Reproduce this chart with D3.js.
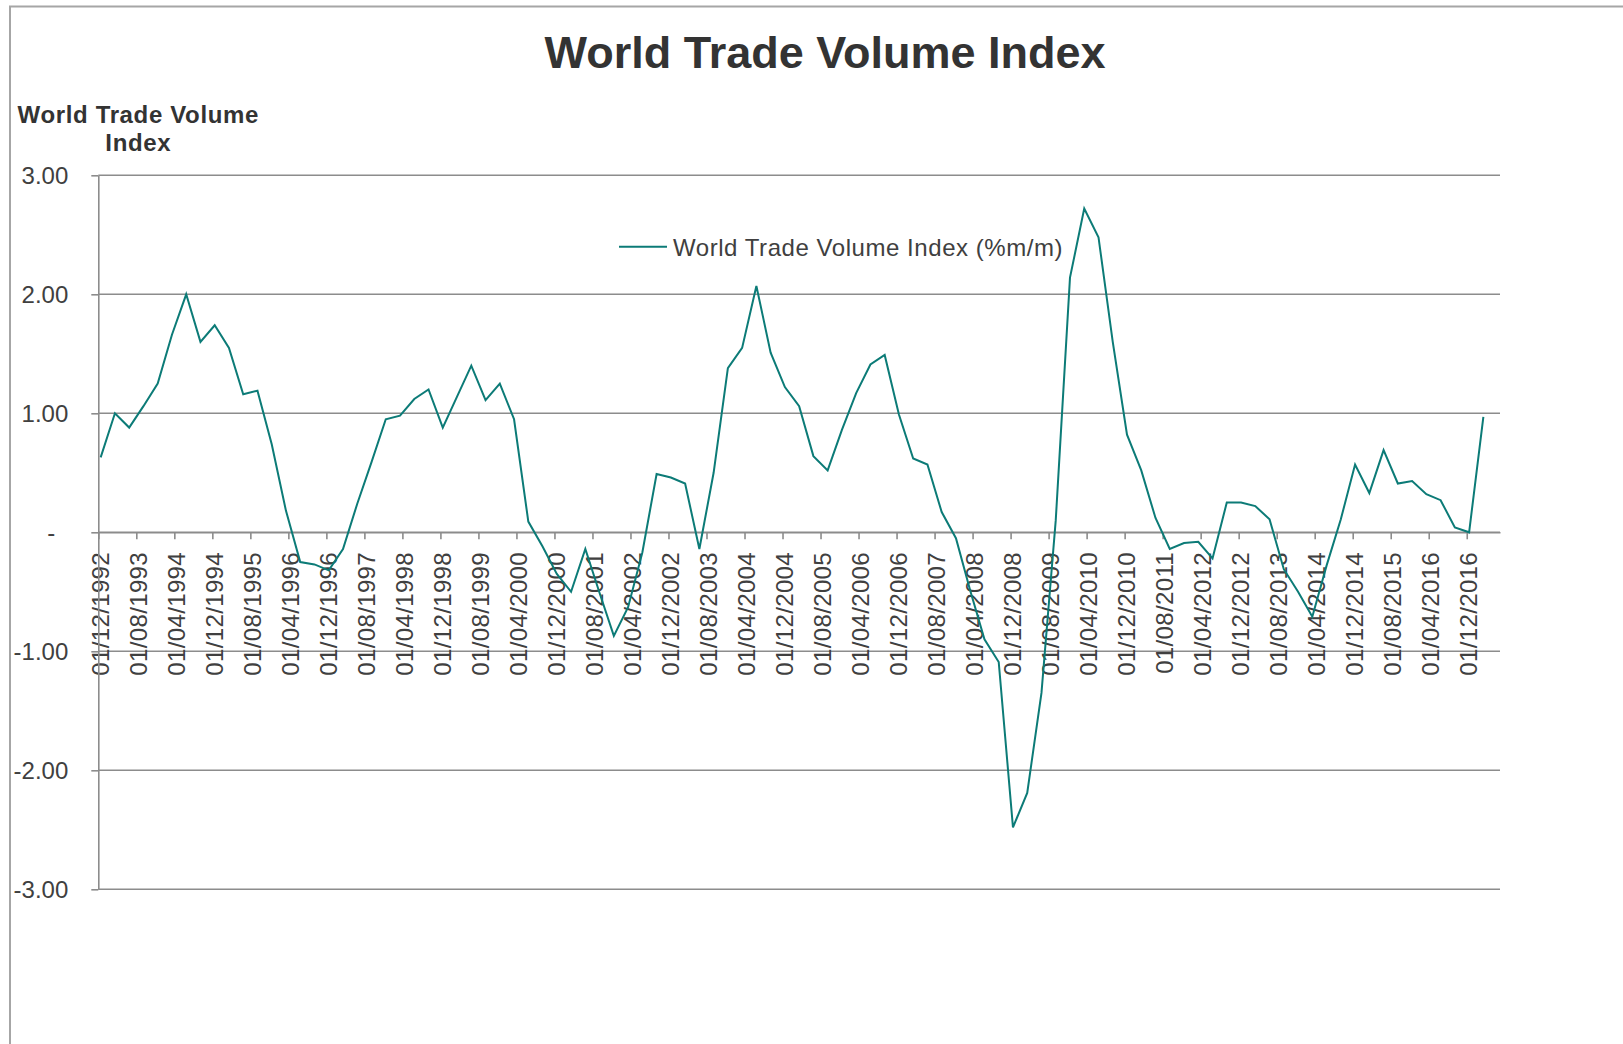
<!DOCTYPE html>
<html>
<head>
<meta charset="utf-8">
<script src="https://cdn.jsdelivr.net/npm/d3@7"></script>
<style>
  body { margin: 0; background: #ffffff; }
  svg { display: block; font-family: "Liberation Sans", Arial, sans-serif; }
</style>
</head>
<body>
<svg id="chart" width="1623" height="1044"></svg>
<script>
// ---------------- DATA ----------------
const titleText = "World Trade Volume Index";
const yTitleLines = ["World Trade Volume", "Index"];
const seriesName = "World Trade Volume Index (%m/m)";

const quarters = [
  "1992-12","1993-03","1993-06","1993-09","1993-12","1994-03","1994-06","1994-09","1994-12","1995-03",
  "1995-06","1995-09","1995-12","1996-03","1996-06","1996-09","1996-12","1997-03","1997-06","1997-09",
  "1997-12","1998-03","1998-06","1998-09","1998-12","1999-03","1999-06","1999-09","1999-12","2000-03",
  "2000-06","2000-09","2000-12","2001-03","2001-06","2001-09","2001-12","2002-03","2002-06","2002-09",
  "2002-12","2003-03","2003-06","2003-09","2003-12","2004-03","2004-06","2004-09","2004-12","2005-03",
  "2005-06","2005-09","2005-12","2006-03","2006-06","2006-09","2006-12","2007-03","2007-06","2007-09",
  "2007-12","2008-03","2008-06","2008-09","2008-12","2009-03","2009-06","2009-09","2009-12","2010-03",
  "2010-06","2010-09","2010-12","2011-03","2011-06","2011-09","2011-12","2012-03","2012-06","2012-09",
  "2012-12","2013-03","2013-06","2013-09","2013-12","2014-03","2014-06","2014-09","2014-12","2015-03",
  "2015-06","2015-09","2015-12","2016-03","2016-06","2016-09","2016-12","2017-03"
];

const values = [
  0.63, 1.00, 0.88, 1.06, 1.25, 1.66, 2.00, 1.60, 1.74, 1.55,
  1.16, 1.19, 0.74, 0.18, -0.25, -0.27, -0.32, -0.14, 0.24, 0.59,
  0.95, 0.98, 1.12, 1.20, 0.88, 1.14, 1.40, 1.11, 1.25, 0.95,
  0.09, -0.12, -0.35, -0.50, -0.14, -0.51, -0.87, -0.63, -0.17, 0.49,
  0.46, 0.41, -0.14, 0.50, 1.38, 1.55, 2.07, 1.51, 1.22, 1.06,
  0.64, 0.52, 0.86, 1.17, 1.41, 1.49, 0.99, 0.62, 0.57, 0.17,
  -0.05, -0.49, -0.90, -1.09, -2.48, -2.19, -1.35, 0.10, 2.14, 2.72,
  2.48, 1.60, 0.82, 0.52, 0.12, -0.14, -0.09, -0.08, -0.22, 0.25,
  0.25, 0.22, 0.11, -0.31, -0.50, -0.71, -0.28, 0.11, 0.57, 0.33,
  0.69, 0.41, 0.43, 0.32, 0.27, 0.04, 0.00, 0.97
];

const xTickLabels = [
  "01/12/1992","01/08/1993","01/04/1994","01/12/1994","01/08/1995","01/04/1996","01/12/1996",
  "01/08/1997","01/04/1998","01/12/1998","01/08/1999","01/04/2000","01/12/2000","01/08/2001",
  "01/04/2002","01/12/2002","01/08/2003","01/04/2004","01/12/2004","01/08/2005","01/04/2006",
  "01/12/2006","01/08/2007","01/04/2008","01/12/2008","01/08/2009","01/04/2010","01/12/2010",
  "01/08/2011","01/04/2012","01/12/2012","01/08/2013","01/04/2014","01/12/2014","01/08/2015",
  "01/04/2016","01/12/2016"
];

const yTickValues = [3, 2, 1, 0, -1, -2, -3];
const yTickLabels = ["3.00", "2.00", "1.00", "-", "-1.00", "-2.00", "-3.00"];

// ---------------- HELPERS ----------------
// months elapsed since Dec 1992 (Excel date axis, base unit = month)
function monthsFromQuarter(s) {
  const [yy, mm] = s.split("-").map(Number);
  return (yy - 1992) * 12 + (mm - 12);
}
function monthsFromLabel(s) {
  const [, mm, yy] = s.split("/").map(Number);
  return (yy - 1992) * 12 + (mm - 12);
}

// ---------------- LAYOUT ----------------
const svg = d3.select("#chart");
const gridColor = "#8c8c8c";
const textColor = "#404040";
const lineColor = "#0c7b77";

const x = d3.scaleLinear().domain([0, 295]).range([98.3, 1500]);
const y = d3.scaleLinear().domain([-3, 3]).range([889.3, 175.3]);

// outer chart-area border (extends past right and bottom edges)
svg.append("rect")
  .attr("x", 10).attr("y", 6.5)
  .attr("width", 1700).attr("height", 1100)
  .attr("fill", "none")
  .attr("stroke", "#a6a6a6")
  .attr("stroke-width", 2);

// title
svg.append("text")
  .attr("x", 825).attr("y", 68)
  .attr("text-anchor", "middle")
  .attr("font-size", 45)
  .attr("font-weight", "bold")
  .attr("fill", "#333333")
  .text(titleText);

// y-axis title
svg.append("g").selectAll("text")
  .data(yTitleLines)
  .join("text")
  .attr("x", 138.3)
  .attr("y", (d, i) => 122.7 + i * 28)
  .attr("text-anchor", "middle")
  .attr("font-size", 24)
  .attr("font-weight", "bold")
  .attr("letter-spacing", 0.65)
  .attr("fill", "#333333")
  .text(d => d);

// horizontal gridlines
svg.append("g").selectAll("line")
  .data(yTickValues)
  .join("line")
  .attr("x1", x(0)).attr("x2", x(295))
  .attr("y1", d => y(d)).attr("y2", d => y(d))
  .attr("stroke", gridColor)
  .attr("stroke-width", 1.6);

// x axis (category/date axis at zero)
const xTickMonths = xTickLabels.map(monthsFromLabel);
const xAxis = d3.axisBottom(x)
  .tickValues(xTickMonths)
  .tickSize(7)
  .tickSizeOuter(0)
  .tickFormat((d, i) => xTickLabels[i]);

const gx = svg.append("g")
  .attr("transform", `translate(0,${y(0)})`)
  .call(xAxis);
gx.select(".domain").attr("stroke", gridColor).attr("stroke-width", 1.6);
gx.selectAll(".tick line").attr("stroke", gridColor).attr("stroke-width", 1.6);
gx.selectAll(".tick text")
  .attr("y", null).attr("dy", null)
  .attr("transform", "translate(10,19.7) rotate(-90)")
  .attr("text-anchor", "end")
  .attr("font-size", 24)
  .attr("letter-spacing", 0.35)
  .attr("font-family", "Liberation Sans, Arial, sans-serif")
  .attr("fill", textColor);

// y axis
const yAxis = d3.axisLeft(y)
  .tickValues(yTickValues)
  .tickSize(7)
  .tickSizeOuter(0)
  .tickPadding(23)
  .tickFormat((d, i) => yTickLabels[i]);

const gy = svg.append("g")
  .attr("transform", `translate(${x(0)},0)`)
  .call(yAxis);
gy.select(".domain").attr("stroke", gridColor).attr("stroke-width", 1.6);
gy.selectAll(".tick line").attr("stroke", gridColor).attr("stroke-width", 1.6);
gy.selectAll(".tick text")
  .attr("font-size", 24)
  .attr("font-family", "Liberation Sans, Arial, sans-serif")
  .attr("fill", textColor)
  .attr("dy", "0.35em")
  .filter(function() { return d3.select(this).text() === "-"; })
  .attr("x", -43);

// data line
const data = quarters.map((q, i) => ({ m: monthsFromQuarter(q) + 0.5, v: values[i] }));
const line = d3.line().x(d => x(d.m)).y(d => y(d.v));
svg.append("path")
  .datum(data)
  .attr("d", line)
  .attr("fill", "none")
  .attr("stroke", lineColor)
  .attr("stroke-width", 2)
  .attr("stroke-linejoin", "miter");

// legend
const lg = svg.append("g");
lg.append("line")
  .attr("x1", 619).attr("x2", 667)
  .attr("y1", 246.7).attr("y2", 246.7)
  .attr("stroke", lineColor)
  .attr("stroke-width", 2);
lg.append("text")
  .attr("x", 673).attr("y", 255.5)
  .attr("font-size", 24)
  .attr("letter-spacing", 0.55)
  .attr("fill", textColor)
  .text(seriesName);
</script>
</body>
</html>
